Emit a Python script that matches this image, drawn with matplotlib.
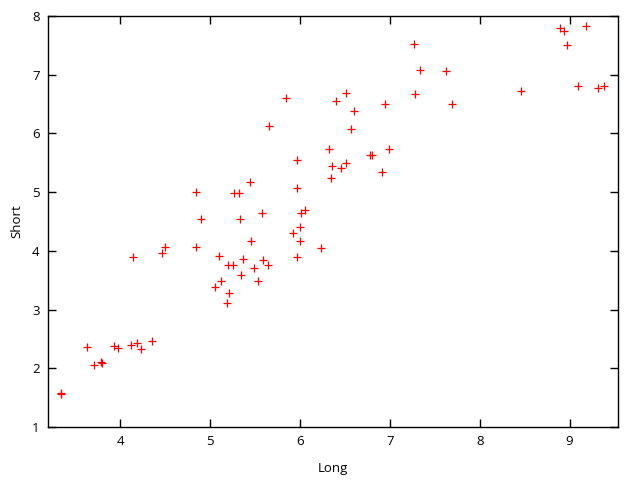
import matplotlib
matplotlib.use("Agg")
import matplotlib.pyplot as plt

long_vals = [3.345, 3.345, 3.636, 3.714, 3.79, 3.80, 3.937, 3.98, 4.122, 4.19, 4.23, 4.36,
             4.849, 4.904, 4.148, 4.47, 4.504, 4.842,
             6.78, 6.80, 5.972, 6.361, 6.517, 6.462, 6.914, 6.35, 5.45, 5.271, 5.327, 5.972,
             5.58, 6.017, 6.06, 5.338, 6.002, 5.928, 5.457, 6.002, 6.239, 5.105, 5.972,
             5.372, 5.594, 5.198, 5.26, 5.643, 5.494, 5.349, 5.127, 5.538, 5.06, 5.216, 5.194,
             7.274, 7.337, 7.285, 5.843, 6.517, 6.406, 6.95, 6.603, 5.661, 6.57, 6.328, 6.992,
             7.63, 7.693, 8.464, 8.894, 8.939, 9.187, 8.972, 9.098, 9.32, 9.384]
short_vals = [1.583, 1.555, 2.356, 2.05, 2.106, 2.094, 2.383, 2.344, 2.395, 2.424, 2.322, 2.46,
              4.997, 4.537, 3.889, 3.957, 4.06, 4.06,
              5.632, 5.632, 5.542, 5.445, 5.496, 5.41, 5.337, 5.235, 5.166, 4.98, 4.98, 5.065,
              4.644, 4.644, 4.695, 4.537, 4.40, 4.303, 4.172, 4.172, 4.042, 3.906, 3.889,
              3.86, 3.843, 3.753, 3.753, 3.753, 3.707, 3.583, 3.48, 3.48, 3.383, 3.276, 3.105,
              7.523, 7.08, 6.666, 6.598, 6.683, 6.552, 6.496, 6.376, 6.121, 6.075, 5.729, 5.729,
              7.063, 6.496, 6.722, 7.796, 7.739, 7.83, 7.506, 6.807, 6.773, 6.807]

x_ticks = [4, 5, 6, 7, 8, 9]
y_ticks = [1, 2, 3, 4, 5, 6, 7, 8]

plt.rcParams['font.family'] = ['Open Sans', 'DejaVu Sans']
fig = plt.figure(figsize=(6.4, 4.8), dpi=100)
ax = fig.add_axes([0.075, 0.1104, 0.891, 0.8563])
ax.plot(long_vals, short_vals, linestyle='none', marker='+', color='red',
        markersize=5.5, markeredgewidth=0.9)
ax.set_xlim(3.2, 9.54)
ax.set_ylim(1, 8)
ax.set_xticks(x_ticks)
ax.set_yticks(y_ticks)
ax.tick_params(direction='in', length=6, width=1, top=True, right=True,
               labelsize=9.5, colors='black', pad=6)
for s in ax.spines.values():
    s.set_linewidth(1)
ax.set_xlabel('Long', fontsize=9.5, labelpad=10)
ax.set_ylabel('Short', fontsize=9.5, labelpad=6)
fig.savefig('out.png', dpi=100)
